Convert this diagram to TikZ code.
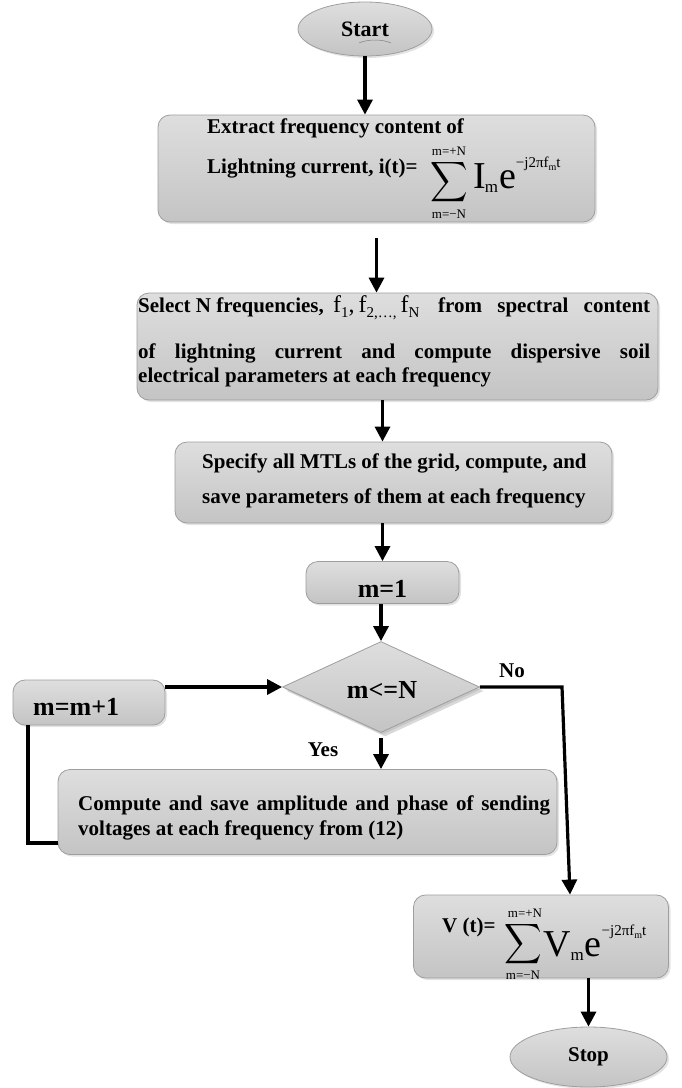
\documentclass[tikz,border=0pt]{standalone}
\usepackage{fontspec}
\setmainfont{Liberation Serif}
\usepackage{graphicx}
\usetikzlibrary{shapes.geometric,arrows.meta,shadows}

\definecolor{boxtop}{RGB}{222,222,222}
\definecolor{boxbot}{RGB}{196,196,196}
\definecolor{boxedge}{RGB}{158,158,158}

\newcommand{\bigsum}{\scalebox{2.6}[2.8]{$\displaystyle\sum$}}
\newcommand{\limf}{\fontsize{13}{13}\selectfont\mdseries}
\newcommand{\bigf}{\fontsize{38}{38}\selectfont\mdseries}
\newcommand{\subf}{\fontsize{17}{17}\selectfont\mdseries}
\newcommand{\expf}{\fontsize{15}{15}\selectfont\mdseries}
\newcommand{\tinyf}{\fontsize{10}{10}\selectfont\mdseries}
\newcommand{\ffont}{\fontsize{24}{24}\selectfont\mdseries}
\newcommand{\fsub}{\fontsize{15}{15}\selectfont\mdseries}
\newcommand{\expo}{\raisebox{21pt}{\expf −j2πf\raisebox{-3pt}{\tinyf m}t}}

\begin{document}
\begin{tikzpicture}[x=1pt,y=-1pt,
  shade/.style={draw=boxedge, line width=0.8pt, top color=boxtop, bottom color=boxbot,
    inner sep=0pt, drop shadow={shadow xshift=2pt,shadow yshift=-2pt,opacity=0.22}},
  box/.style={shade, rectangle, rounded corners=12pt},
  ell/.style={shade, ellipse, font=\bfseries\fontsize{22}{22}\selectfont},
  dia/.style={shade, diamond, drop shadow={shadow xshift=4pt,shadow yshift=-4pt,opacity=0.3}},
  txt/.style={inner sep=0pt, anchor=base west, font=\bfseries\fontsize{21}{25}\selectfont},
  bigtxt/.style={inner sep=0pt, anchor=base, font=\bfseries\fontsize{26}{26}\selectfont},
  lbl/.style={inner sep=0pt, font=\bfseries\fontsize{21}{21}\selectfont},
  plain/.style={inner sep=0pt},
  arr/.style={line width=3.2pt, -{Triangle[length=15pt,width=15pt]}},
  conn/.style={line width=3.6pt}
]
\useasboundingbox (0,0) rectangle (681,1088);

% Start
\node[ell, minimum width=134pt, minimum height=54pt] (start) at (365,29) {Start};
\draw[gray, line width=0.5pt] (359,43) .. controls (368,39) and (382,39) .. (391,43);

% Box 1
\node[box, minimum width=437pt, minimum height=107pt] (box1) at (376.5,168.5) {};
\node[txt] (t1a) at (207,133) {Extract frequency content of};
\node[txt] (t1b) at (207,173) {Lightning current, i(t)=};
\node[plain] (s1) at (449,182) {\bigsum};
\node[plain] (s1u) at (449,151) {\limf m=+N};
\node[plain] (s1d) at (449,214) {\limf m=−N};
\node[plain, anchor=base west] (s1t) at (473,188) {\bigf I\kern-1pt\raisebox{-4pt}{\subf m}\kern1pt e\expo};

% Box 2
\node[box, minimum width=521pt, minimum height=107pt] (box2) at (397.5,346.5) {};
\node[txt] (t2a) at (138,312) {Select N frequencies,};
\node[plain, anchor=base west] (t2f) at (333,312) {\ffont f\raisebox{-5pt}{\fsub 1},\,f\raisebox{-5pt}{\fsub 2,…,}\,f\raisebox{-5pt}{\fsub N}};
\node[txt] (t2b) at (438,312) {\makebox[212pt][s]{from spectral content}};
\node[txt] (t2c) at (138,358) {\makebox[512pt][s]{of lightning current and compute dispersive soil}};
\node[txt] (t2d) at (138,382) {electrical parameters at each frequency};

% Box 3
\node[box, minimum width=437pt, minimum height=81pt] (box3) at (393.5,482.5) {};
\node[txt] (t3a) at (202,468) {Specify all MTLs of the grid, compute, and};
\node[txt] (t3b) at (202,503) {save parameters of them at each frequency};

% m=1
\node[box, minimum width=153pt, minimum height=42pt] (m1) at (382.5,582.5) {};
\node[bigtxt] (tm1) at (382.5,597) {m=1};

% decision
\node[dia, minimum width=197pt, minimum height=91pt] (dec) at (381,687) {};
\node[bigtxt] (tdec) at (382,698) {m<=N};

% m=m+1
\node[box, minimum width=152pt, minimum height=45pt] (mm1) at (89,702.5) {};
\node[bigtxt, anchor=base west] (tmm1) at (33,715) {m=m+1};

% compute
\node[box, minimum width=499pt, minimum height=85pt] (comp) at (307.5,812) {};
\node[txt] (t4a) at (78,810) {\makebox[472pt][s]{Compute and save amplitude and phase of sending}};
\node[txt] (t4b) at (78,835) {voltages at each frequency from (12)};

% V(t)
\node[box, minimum width=255pt, minimum height=83pt] (vbox) at (541,936.5) {};
\node[txt] (t5a) at (442,932) {V (t)=};
\node[plain] (s2) at (523,944) {\bigsum};
\node[plain] (s2u) at (525,913) {\limf m=+N};
\node[plain] (s2d) at (523,975) {\limf m=−N};
\node[plain, anchor=base west] (s2t) at (543,956) {\bigf V\raisebox{-4pt}{\subf m}\kern1pt e\expo};

% Stop
\node[ell, minimum width=157pt, minimum height=60pt, font=\bfseries\fontsize{21}{21}\selectfont] (stop) at (588.5,1057) {Stop};

% labels
\node[lbl] (no) at (512,671) {No};
\node[lbl] (yes) at (323,750) {Yes};

% connectors
\coordinate (nocorner) at (562,687);
\coordinate (noend) at (570,895);
\coordinate (fb) at (28,843);
\draw[arr] (start) -- (start |- box1.north);
\draw[arr, shorten <=16pt] (box1.south) -- (box1.south |- box2.north);
\draw[arr] (box2.south -| m1) -- (box3.north -| m1);
\draw[arr] (box3.south -| m1) -- (m1.north);
\draw[arr] (m1.south -| dec.north) -- (dec.north);
\draw[arr, shorten <=5pt] (dec.south) -- (dec.south |- comp.north);
\draw[arr] (dec.east) -- (nocorner) -- (noend |- vbox.north);
\draw[arr] (mm1.east |- dec.west) -- (dec.west);
\draw[conn] (comp.west |- fb) -- (fb) -- (fb |- mm1.south);
\draw[arr] (vbox.south -| stop) -- (stop.north);
\end{tikzpicture}
\end{document}
